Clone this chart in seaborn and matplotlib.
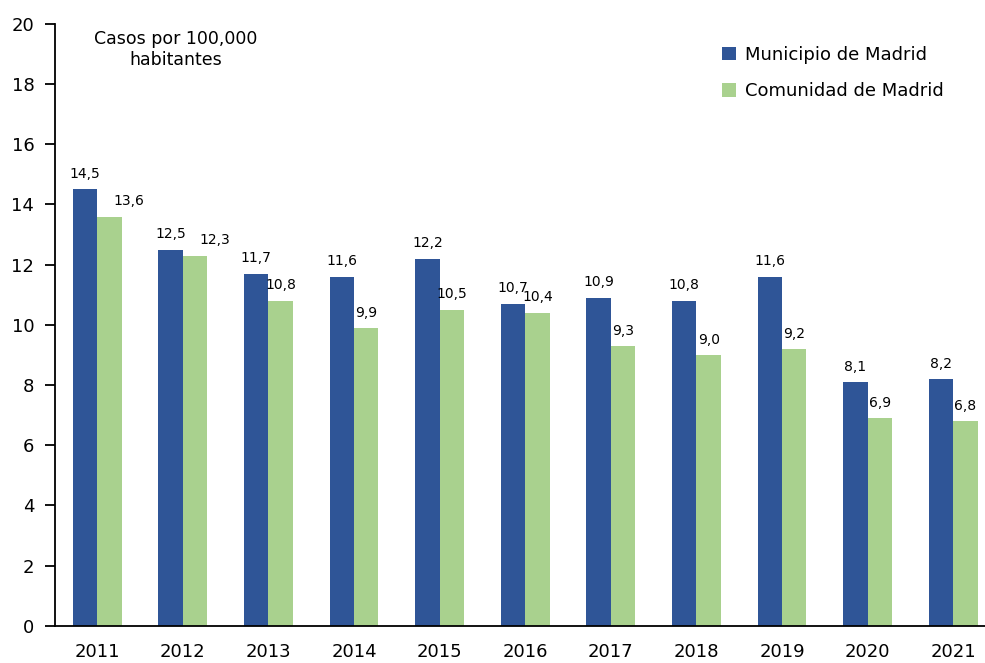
import pandas as pd
import matplotlib
matplotlib.use("Agg")
import matplotlib.pyplot as plt
import seaborn as sns

# ---------- DATA ----------
years = ["2011", "2012", "2013", "2014", "2015", "2016",
         "2017", "2018", "2019", "2020", "2021"]
municipio = [14.5, 12.5, 11.7, 11.6, 12.2, 10.7, 10.9, 10.8, 11.6, 8.1, 8.2]
comunidad = [13.6, 12.3, 10.8, 9.9, 10.5, 10.4, 9.3, 9.0, 9.2, 6.9, 6.8]
series_names = ["Municipio de Madrid", "Comunidad de Madrid"]
colors = ["#2F5597", "#A9D18E"]

df = pd.DataFrame({
    "year": years * 2,
    "value": municipio + comunidad,
    "serie": [series_names[0]] * len(years) + [series_names[1]] * len(years),
})

# ---------- PLOT ----------
sns.set_style("white")
plt.rcParams["font.family"] = ["DejaVu Sans"]
plt.rcParams["text.color"] = "#000000"

fig = plt.figure(figsize=(9.85, 6.63), dpi=100)
ax = fig.add_axes([0.056, 0.056, 0.944, 0.908])

sns.barplot(
    data=df, x="year", y="value", hue="serie",
    palette=colors, width=0.57, saturation=1, linewidth=0,
    order=years, hue_order=series_names, ax=ax,
)

for i, cont in enumerate(ax.containers):
    anns = ax.bar_label(
        cont,
        labels=[f"{b.get_height():.1f}".replace(".", ",") for b in cont],
        padding=6, fontsize=10, color="#000000",
    )
    # shift overlapping green labels to the right (as in the original)
    if i == 1:
        for j in (0, 1):
            anns[j].xyann = (14, 6)

ax.set_ylim(0, 20)
ax.set_yticks(range(0, 21, 2))
ax.set_xlim(-0.49, 10.37)
ax.set_xlabel("")
ax.set_ylabel("")

for s in ["top", "right"]:
    ax.spines[s].set_visible(False)
ax.spines["left"].set_color("#000000")
ax.spines["bottom"].set_color("#000000")
ax.spines["left"].set_linewidth(1.3)
ax.spines["bottom"].set_linewidth(1.3)

ax.tick_params(axis="y", left=True, length=7, width=1.3, labelsize=13, pad=8,
               colors="#000000")
ax.tick_params(axis="x", bottom=False, labelsize=13, pad=9, colors="#000000")

ax.text(0.13, 0.99, "Casos por 100,000\nhabitantes", transform=ax.transAxes,
        ha="center", va="top", fontsize=12.5, linespacing=1.25,
        color="#000000")

leg = ax.legend(
    loc="upper left", bbox_to_anchor=(0.7, 0.99), frameon=False,
    fontsize=13, handlelength=0.75, handleheight=0.75, handletextpad=0.5,
    labelspacing=1.0,
)
for t in leg.get_texts():
    t.set_color("#000000")

fig.savefig("out.png", dpi=100)
